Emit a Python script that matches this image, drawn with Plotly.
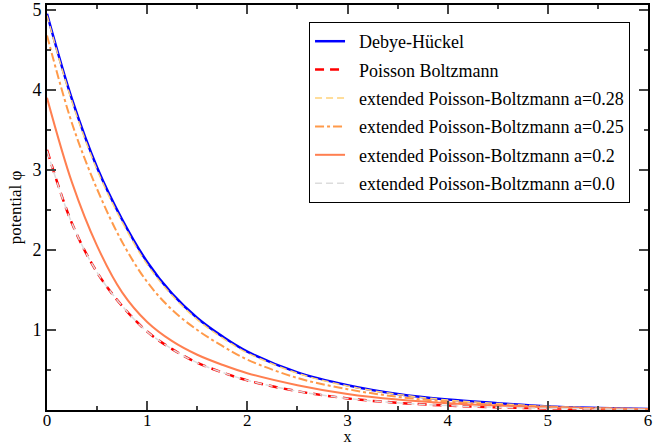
import plotly.graph_objects as go

x_vals = [0, 0.25, 0.5, 0.75, 1, 1.25, 1.5, 1.75, 2, 2.5, 3, 3.5, 4, 4.5, 5, 5.5, 6]

debye_huckel = [4.95, 3.88, 3.03, 2.38, 1.85, 1.45, 1.15, 0.92, 0.73, 0.47, 0.31, 0.20, 0.13, 0.085, 0.045, 0.025, 0.012]
poisson_boltzmann = [3.25, 2.33, 1.72, 1.30, 0.98, 0.76, 0.59, 0.47, 0.37, 0.235, 0.145, 0.09, 0.055, 0.034, 0.02, 0.012, 0.007]
epb_028 = [4.93, 3.85, 3.00, 2.35, 1.82, 1.43, 1.13, 0.90, 0.715, 0.46, 0.30, 0.195, 0.125, 0.08, 0.045, 0.025, 0.012]
epb_025 = [4.68, 3.58, 2.76, 2.10, 1.60, 1.25, 1.00, 0.80, 0.63, 0.40, 0.26, 0.165, 0.105, 0.065, 0.04, 0.022, 0.012]
epb_020 = [3.90, 2.84, 2.05, 1.47, 1.10, 0.86, 0.69, 0.565, 0.46, 0.31, 0.20, 0.13, 0.085, 0.055, 0.035, 0.02, 0.012]
epb_000 = [3.24, 2.33, 1.72, 1.30, 0.98, 0.76, 0.59, 0.47, 0.37, 0.235, 0.145, 0.09, 0.055, 0.034, 0.02, 0.012, 0.007]

x_ticks = [0, 1, 2, 3, 4, 5, 6]
y_ticks = [1, 2, 3, 4, 5]

series = [
    ("Debye-Hückel", debye_huckel, "#0000FF", 2.5, "solid"),
    ("Poisson Boltzmann", poisson_boltzmann, "#FF0000", 2.5, "9px,6px"),
    ("extended Poisson-Boltzmann a=0.28", epb_028, "#FFD27A", 1.5, "7px,4px"),
    ("extended Poisson-Boltzmann a=0.25", epb_025, "#FF9A4A", 2, "dashdot"),
    ("extended Poisson-Boltzmann a=0.2", epb_020, "#FF7F50", 2, "solid"),
    ("extended Poisson-Boltzmann a=0.0", epb_000, "#DCDCDC", 1.5, "7px,4px"),
]

fig = go.Figure()
for i, (name, ys, col, w, dash) in enumerate(series):
    fig.add_trace(go.Scatter(
        x=x_vals, y=ys, mode="lines", name="  " + name, legendgroup=f"g{i}",
        line=dict(color=col, width=w, dash=dash, shape="spline", smoothing=1),
    ))

font = "Liberation Serif"
fig.update_layout(
    width=662, height=445,
    margin=dict(l=47, r=14, t=5, b=35, autoexpand=False),
    paper_bgcolor="white", plot_bgcolor="white",
    font=dict(family=font, size=18, color="black"),
    showlegend=True,
    legend=dict(
        x=0.436, y=0.958, xanchor="left", yanchor="top",
        bordercolor="black", borderwidth=1, bgcolor="white",
        font=dict(family=font, size=18), tracegroupgap=2,
    ),
    xaxis=dict(
        range=[0, 6], tickvals=x_ticks, ticks="inside", ticklen=9, tickwidth=2,
        showline=True, linewidth=2, linecolor="black", mirror="allticks",
        showgrid=False, zeroline=False,
        minor=dict(ticks="inside", ticklen=4, tickwidth=2, dtick=0.5, tick0=0, showgrid=False),
        title=dict(text="x", standoff=4, font=dict(size=16)),
        tickfont=dict(size=17), ticklabelstandoff=-6,
    ),
    yaxis=dict(
        range=[0, 5.06], tickvals=y_ticks, ticks="inside", ticklen=9, tickwidth=2,
        showline=True, linewidth=2, linecolor="black", mirror="allticks",
        showgrid=False, zeroline=False,
        minor=dict(ticks="inside", ticklen=4, tickwidth=2, dtick=0.5, tick0=0, showgrid=False),
        title=dict(text="potential φ", standoff=6, font=dict(size=17)),
        tickfont=dict(size=18),
    ),
)

fig.write_html("out.html", config={"displayModeBar": False},
               post_script="document.body.style.margin='0';")
